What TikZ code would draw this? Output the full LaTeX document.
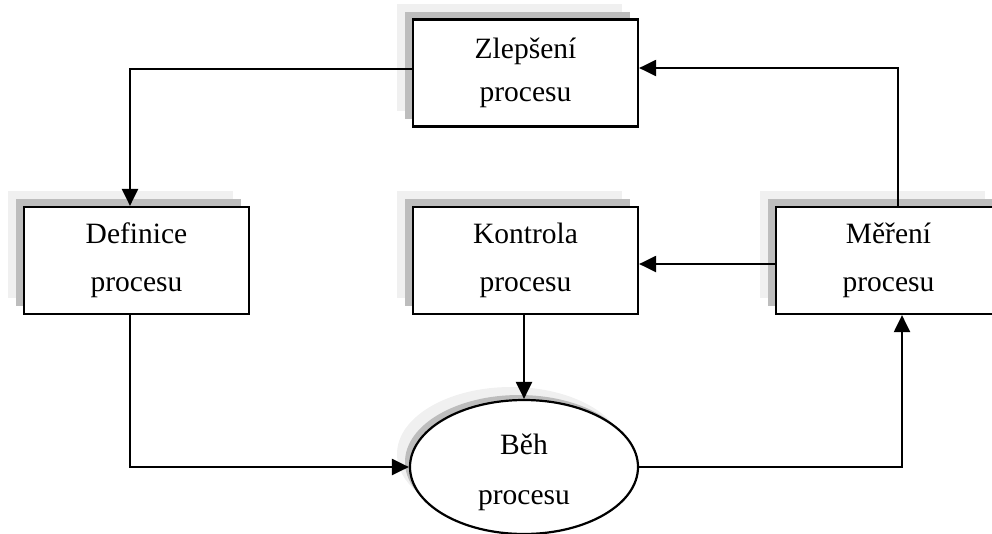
\documentclass[tikz,border=0pt]{standalone}
\usepackage{fontspec}
\setmainfont{Liberation Serif}
\usetikzlibrary{arrows.meta,shapes.geometric,shadows}
\definecolor{ShadowLightClr}{rgb}{0.94,0.94,0.94}
\definecolor{ShadowDarkClr}{rgb}{0.74,0.74,0.74}

\begin{document}
\begin{tikzpicture}[x=1pt,y=-1pt,
  shade2/.style={general shadow={fill=ShadowLightClr,shadow xshift=-#1,shadow yshift=#1}},
  shade1/.style={general shadow={fill=ShadowDarkClr,shadow xshift=-#1,shadow yshift=#1}},
  procbox/.style={draw,fill=white,line width=2.2pt,minimum width=225pt,minimum height=107pt,
    inner sep=0pt,align=center,font=\fontsize{29.5}{48}\selectfont,
    shade2=16pt,shade1=8pt},
  procell/.style={ellipse,draw,fill=white,line width=2.2pt,minimum width=228pt,minimum height=134pt,
    inner sep=0pt,align=center,font=\fontsize{29.5}{50}\selectfont,
    shade2=13pt,shade1=5pt},
  conn/.style={line width=2.2pt,-{Triangle[length=17pt,width=16pt]}}]
\useasboundingbox (0,0) rectangle (992,533);
\clip (0,0) rectangle (992,533);

% boxes
\node[procbox,font=\fontsize{29.5}{43}\selectfont] (zlep) at (525.5,73) {Zlepšení\\procesu};
\node[procbox] (defi) at (136.5,260.5) {Definice\\procesu};
\node[procbox] (kont) at (525.5,260.5) {Kontrola\\procesu};
\node[procbox] (meri) at (888.5,260.5) {Měření\\procesu};
\node[procell] (beh) at (524,467) {};
\node[font=\fontsize{29.5}{50}\selectfont,align=center] (behtxt) at (524,472) {Běh\\procesu};

% connectors
\draw[conn] ([yshift=4]zlep.west) -| ([xshift=-6.5]defi.north);
\draw[conn] ([xshift=9.5]meri.north) |- ([yshift=5]zlep.east);
\draw[conn] ([yshift=-3.5]meri.west) -- ([yshift=-3.5]kont.east);
\draw[conn] ([xshift=-1.5]kont.south) -- (beh.north);
\draw[conn] ([xshift=-6.5]defi.south) |- (beh.west);
\draw[conn] (beh.east) -| ([xshift=13.5]meri.south);

\end{tikzpicture}
\end{document}
